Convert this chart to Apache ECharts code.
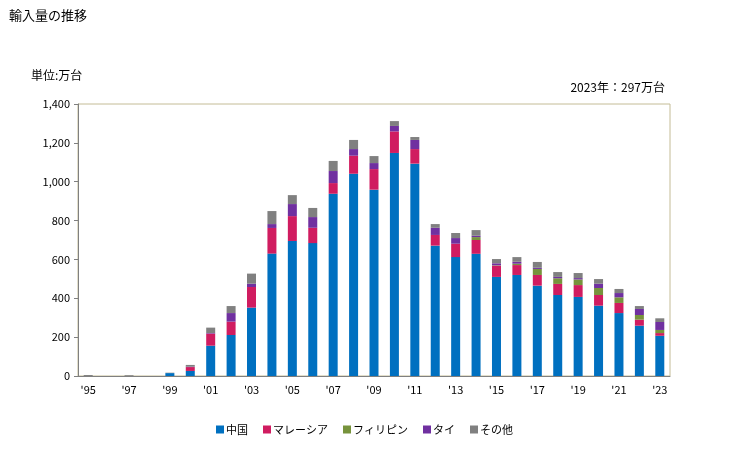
<!DOCTYPE html>
<html>
<head>
<meta charset="utf-8">
<script src="https://cdn.jsdelivr.net/npm/echarts@6/dist/echarts.min.js"></script>
<style>html,body{margin:0;padding:0;background:#fff;}#c{width:729px;height:450px;}</style>
</head>
<body>
<div id="c"></div>
<script>
const years = ['1995','1996','1997','1998','1999','2000','2001','2002','2003','2004','2005','2006','2007','2008','2009','2010','2011','2012','2013','2014','2015','2016','2017','2018','2019','2020','2021','2022','2023'];
const china    = [0,0,0,0,15,26,156,211,352,630,695,684,938,1041,959,1148,1093,671,612,629,510,520,465,417,407,362,324,259,207];
const malaysia = [0,0,0,0,0,20,62,69,106,132,128,79,55,93,106,111,75,55,69,71,58,51,55,57,61,55,52,31,14];
const philippines = [0,0,0,0,0,0,0,0,0,0,0,0,0,0,0,0,0,0,0,15,2,7,31,29,29,36,29,24,16];
const thailand = [0,0,0,0,0,2,3,44,17,20,62,55,62,34,31,28,47,37,29,7,10,10,6,7,7,22,22,31,41];
const others   = [5,0,4,0,2,9,28,36,52,67,46,47,52,47,36,25,15,19,26,29,22,24,30,25,26,24,21,15,19];
const seriesNames = ['中国','マレーシア','フィリピン','タイ','その他'];
const colors = ['#0070C0','#D01C60','#77933C','#7030A0','#808080'];
const yTicks = [0,200,400,600,800,1000,1200,1400];

const font = '"Noto Sans CJK JP", sans-serif';
const chart = echarts.init(document.getElementById('c'));
const dataSets = [china, malaysia, philippines, thailand, others];
chart.setOption({
  animation: false,
  textStyle: {fontFamily: font},
  title: [
    {text: '輸入量の推移', left: 4, top: 4, textStyle: {fontSize: 13, fontWeight: 'normal', color: '#000', fontFamily: font}},
    {text: '単位:万台', left: 26, top: 64, textStyle: {fontSize: 12, fontWeight: 'normal', color: '#000', fontFamily: font}},
    {text: '2023年：297万台', right: 59, top: 76, textStyle: {fontSize: 12, fontWeight: 'normal', color: '#000', fontFamily: font}}
  ],
  legend: {
    bottom: 10, left: 'center', itemWidth: 8, itemHeight: 8, itemGap: 15,
    icon: 'rect',
    textStyle: {fontSize: 11, color: '#000', fontFamily: font, padding: [0,0,0,-3]},
    data: seriesNames
  },
  grid: {left: 78, right: 59, top: 104, bottom: 74, show: true, borderColor: '#C4BC96', borderWidth: 1},
  xAxis: {
    type: 'category', data: years,
    axisLine: {lineStyle: {color: '#808080'}},
    axisTick: {show: false},
    axisLabel: {interval: 1, color: '#000', fontSize: 11, margin: 8, formatter: v => "'" + v.slice(2)}
  },
  yAxis: {
    type: 'value', min: 0, max: 1400, interval: 200,
    axisLine: {show: true, lineStyle: {color: '#808080'}},
    axisTick: {show: true, length: 4, lineStyle: {color: '#808080'}},
    splitLine: {show: false},
    axisLabel: {color: '#000', fontSize: 11, margin: 8, formatter: v => v.toLocaleString('en-US')}
  },
  series: dataSets.map((d, i) => ({
    name: seriesNames[i], type: 'bar', stack: 'total', data: d,
    barWidth: 9, itemStyle: {color: colors[i]}
  })),
  color: colors
});
</script>
</body>
</html>
